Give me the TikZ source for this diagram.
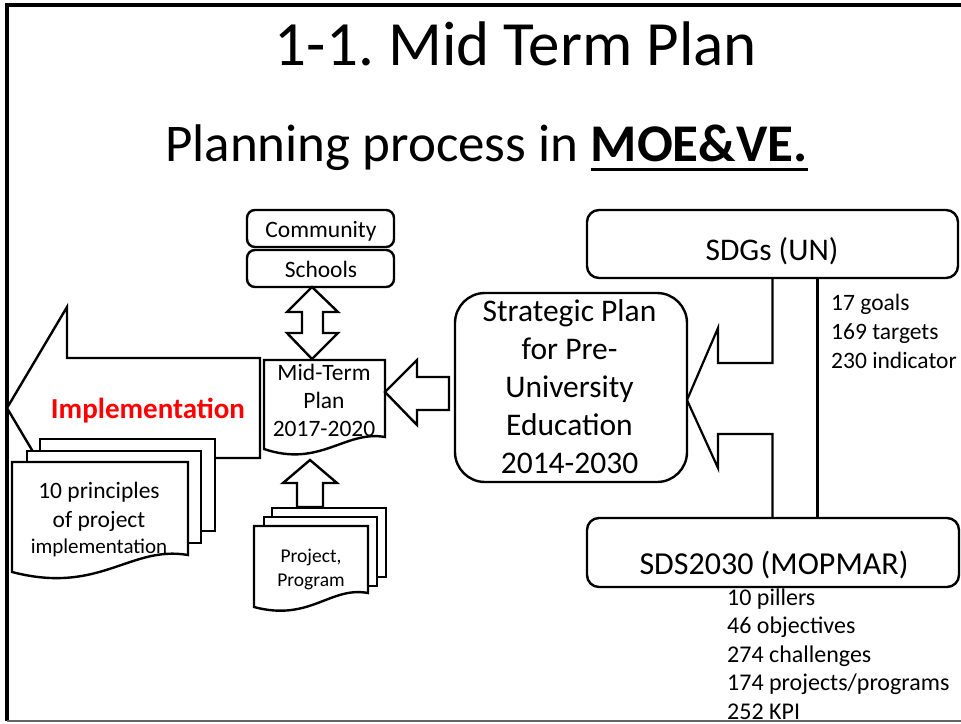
\documentclass[tikz,border=0pt]{standalone}
\usepackage{fontspec}
\setmainfont{Carlito}
\newcommand\setfs[2]{\fontsize{#1}{#2}\selectfont}
\frenchspacing
\begin{document}
\begin{tikzpicture}[x=1pt,y=-1pt, line join=miter,
  blk/.style={draw, line width=2.4pt, fill=white},
  rbox/.style={draw, line width=2.4pt, fill=white, inner sep=0, rounded corners=8pt},
  lbl/.style={inner sep=0, anchor=base, align=center},
  lblw/.style={inner sep=0, anchor=base west, align=left}]
\useasboundingbox (0,0) rectangle (961,723);
% frame
\draw[line width=4pt] (5,5) -- (961,5);
\draw[line width=4pt] (7,3) -- (7,721);
\draw[line width=2pt, black!60] (7,720.5) -- (961,720.5);
% titles
\node[lbl, font=\setfs{63}{70}] (title) at (516,65) {1-1. Mid Term Plan};
\node[lblw, font=\setfs{53}{60}] (sub) at (165,161) {Planning process in\ };
\node[lblw, font=\setfs{53}{60}\bfseries] (moe) at (sub.base east) {MOE\&VE.};
\draw[line width=3pt] ([yshift=-8pt]moe.base west) -- ([yshift=-8pt]moe.base east);
% implementation arrow
\draw[blk] (7,408) -- (67,307) -- (67,358) -- (260,358) -- (260,458) -- (67,458) -- (67,509) -- cycle;
\node[lbl, font=\setfs{29}{34}\bfseries, text=red] (impl) at (148,418) {Implementation};
% principles stack
\draw[blk] (40,439) rectangle (215,531);
\draw[blk] (27,451) rectangle (201,543);
\draw[blk] (12,462) -- (188,462) -- (188,555) .. controls (130,545) and (100,595) .. (12,572) -- cycle;
\node[lbl, font=\setfs{23.5}{29}] (pr1) at (99,527) {10 principles\\of project};
\node[lbl, font=\setfs{21}{26}] (pr2) at (99,553) {implementation};
% community / schools
\node[rbox, minimum width=147, minimum height=37] (comm) at (320.5,228.5) {};
\node[rbox, minimum width=147, minimum height=37] (sch) at (320.5,268.5) {};
\node[lbl, font=\setfs{23.5}{28}] (commt) at (321,237) {Community};
\node[lbl, font=\setfs{23.5}{28}] (scht) at (321,277) {Schools};
% double arrow
\draw[blk] (312,287) -- (338,312) -- (323,312) -- (323,333) -- (338,333) -- (312,359) -- (287,333) -- (302,333) -- (302,312) -- (287,312) -- cycle;
% mid-term doc
\draw[blk] (264,360) -- (385,360) -- (385,437) .. controls (345,430) and (320,468) .. (264,449) -- cycle;
\node[lbl, font=\setfs{23.5}{28}] (mtp) at (324,436) {Mid-Term\\Plan\\2017-2020};
% up arrow
\draw[blk] (310,460) -- (337,483) -- (323,483) -- (323,507) -- (297,507) -- (297,483) -- (283,483) -- cycle;
% project stack
\draw[blk] (272,508) rectangle (386,577);
\draw[blk] (264,517) rectangle (377,586);
\draw[blk] (254,526) -- (368,526) -- (368,593) .. controls (330,586) and (310,622) .. (254,607) -- cycle;
\node[lbl, font=\setfs{19.5}{24}] (proj) at (311,586) {Project,\\Program};
% strategic plan
\node[rbox, rounded corners=30pt, minimum width=232, minimum height=189] (sp) at (571,387.5) {};
\node[lbl, font=\setfs{31.5}{38}] (spt) at (569.5,473) {Strategic Plan\\for Pre-\\University\\Education\\2014-2030};
% arrow to mid-term
\draw[blk] (449,377) -- (417,377) -- (417,360) -- (385,392) -- (417,425) -- (417,410) -- (449,410) -- cycle;
% SDGs / SDS
\node[rbox, rounded corners=12pt, minimum width=371, minimum height=68] (sdg) at (772.5,244) {};
\node[rbox, rounded corners=12pt, minimum width=372, minimum height=69] (sds) at (773,552.5) {};
\node[lbl, font=\setfs{31.5}{38}] (sdgt) at (772,260) {SDGs (UN)};
\node[lbl, font=\setfs{32}{38}] (sdst) at (774,574) {SDS2030 (MOPMAR)};
% bracket arrow
\draw[line width=2.2pt] (sdg.south) -- (772.5,363) -- (718,363) -- (718,328) -- (687,400) -- (718,468) -- (718,434) -- (772.5,434) -- (sds.north -| sdg.south);
\draw[line width=2.2pt] ([xshift=45pt]sdg.south) -- ([xshift=45pt]sdg.south |- sds.north);
% lists
\node[lblw, font=\setfs{23.5}{29}] (sdgl) at (831,368) {17 goals\\169 targets\\230 indicator};
\node[lblw, font=\setfs{24}{28.5}] (sdsl) at (727,719) {10 pillers\\46 objectives\\274 challenges\\174 projects/programs\\252 KPI};
\end{tikzpicture}
\end{document}
